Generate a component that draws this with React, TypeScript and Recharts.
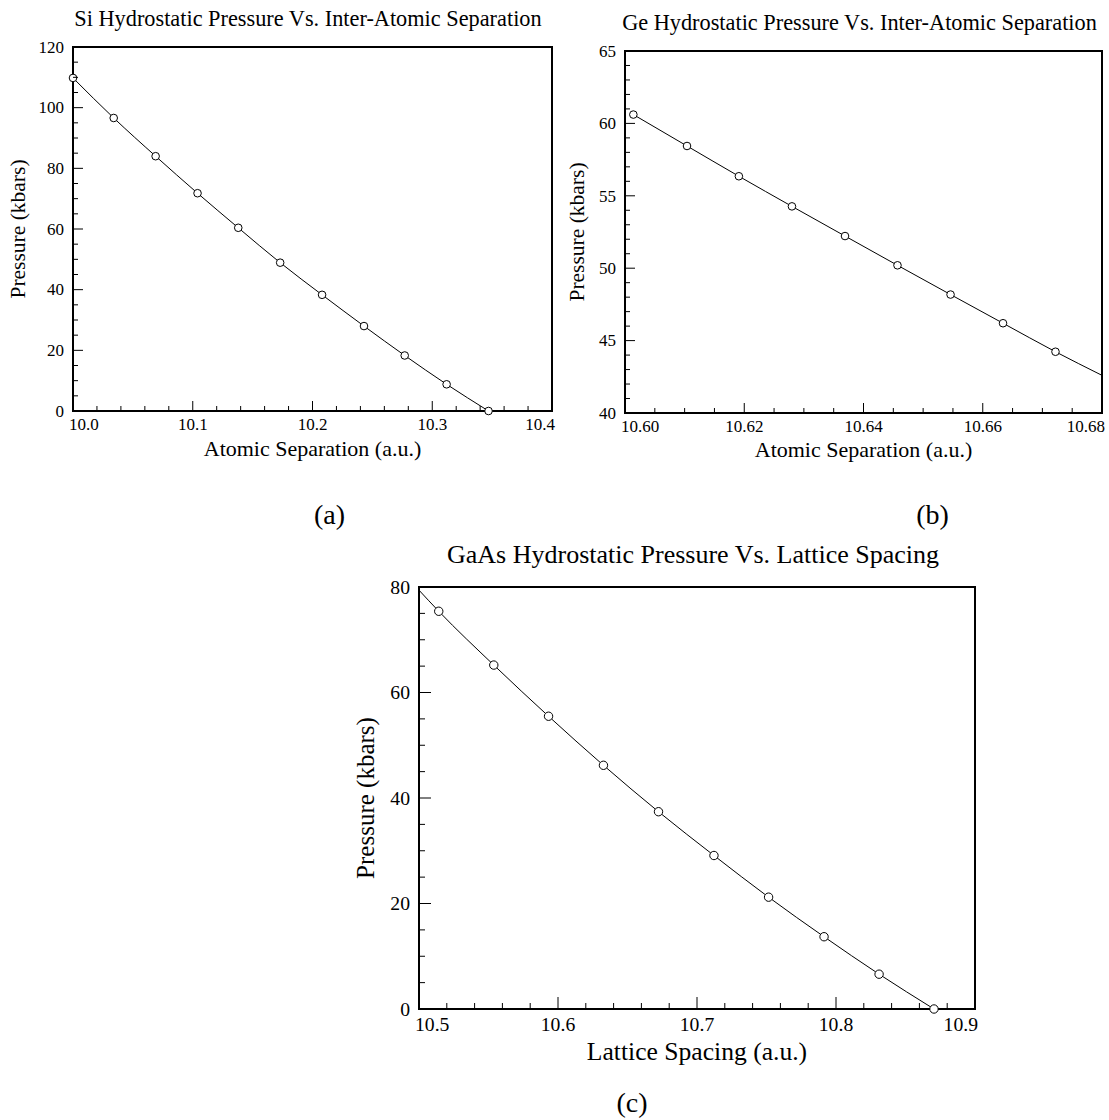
import React from 'react';
import { ComposedChart, Line, Scatter, XAxis, YAxis, ReferenceArea } from 'recharts';

// (a) Si: inter-atomic separation (a.u.) vs hydrostatic pressure (kbars)
const siSeparation = [10.0, 10.034, 10.069, 10.104, 10.138, 10.173, 10.208, 10.243, 10.277, 10.312, 10.347];
const siPressure = [109.8, 96.6, 84.0, 71.8, 60.4, 48.9, 38.3, 28.0, 18.3, 8.8, 0];
const siXMajor = [10.0, 10.1, 10.2, 10.3, 10.4];
const siYMajor = [0, 20, 40, 60, 80, 100, 120];

// (b) Ge
const geSeparation = [10.6014, 10.6104, 10.6191, 10.628, 10.6369, 10.6457, 10.6546, 10.6634, 10.6722];
const gePressure = [60.61, 58.44, 56.35, 54.27, 52.22, 50.2, 48.18, 46.2, 44.23];
const geCurveEnd = { x: 10.68, p: 42.6 }; // fit line runs on to the right edge
const geXMajor = [10.6, 10.62, 10.64, 10.66, 10.68];
const geYMajor = [40, 45, 50, 55, 60, 65];

// (c) GaAs: lattice spacing
const gaasSpacing = [10.5142, 10.5538, 10.5932, 10.6327, 10.6723, 10.7122, 10.7515, 10.7914, 10.831, 10.8705];
const gaasPressure = [75.4, 65.2, 55.5, 46.2, 37.4, 29.1, 21.2, 13.7, 6.6, 0];
const gaasCurveStart = { x: 10.5, p: 79.4 }; // fit line starts at the left edge
const gaasXMajor = [10.5, 10.6, 10.7, 10.8, 10.9];
const gaasYMajor = [0, 20, 40, 60, 80];

const FONT = "'Liberation Serif', 'Times New Roman', Times, serif";

const toPoints = (xs: number[], ps: number[]) => xs.map((x, i) => ({ x, p: ps[i] }));

// major ticks plus the minor ones in between
function withMinor(major: number[], step: number) {
  const lo = major[0];
  const hi = major[major.length - 1];
  const n = Math.round((hi - lo) / step);
  return Array.from({ length: n + 1 }, (_, i) => +(lo + i * step).toFixed(6));
}

const near = (a: number, b: number) => Math.abs(a - b) < 1e-6;

function XTick(props: any) {
  const { x, y, payload, majors, digits, fs, majorLen, minorLen } = props;
  const v = payload.value;
  const isMajor = majors.some((m: number) => near(m, v));
  const first = near(v, majors[0]);
  const last = near(v, majors[majors.length - 1]);
  let anchor = 'middle';
  let tx = x;
  if (first) { anchor = 'start'; tx = x - 4; }
  if (last) { anchor = 'end'; tx = x + 3; }
  const len = isMajor ? majorLen : minorLen;
  return (
    <g>
      {!first && !last && <line x1={x} y1={y} x2={x} y2={y - len} stroke="#000" strokeWidth={1} />}
      {isMajor && (
        <text
          x={tx}
          y={y + fs * 1.12}
          textAnchor={anchor}
          fontSize={fs}
          fontFamily={FONT}
          style={{ fontFamily: FONT }}
          fill="#000"
        >
          {v.toFixed(digits)}
        </text>
      )}
    </g>
  );
}

function YTick(props: any) {
  const { x, y, payload, majors, fs, majorLen, minorLen } = props;
  const v = payload.value;
  const isMajor = majors.some((m: number) => near(m, v));
  const edge = near(v, majors[0]) || near(v, majors[majors.length - 1]);
  const len = isMajor ? majorLen : minorLen;
  return (
    <g>
      {!edge && <line x1={x} y1={y} x2={x + len} y2={y} stroke="#000" strokeWidth={1} />}
      {isMajor && (
        <text
          x={x - 9}
          y={y + fs * 0.34}
          textAnchor="end"
          fontSize={fs}
          fontFamily={FONT}
          style={{ fontFamily: FONT }}
          fill="#000"
        >
          {v}
        </text>
      )}
    </g>
  );
}

function Panel(props: any) {
  const {
    left, top, width, height, margin, yWidth, xHeight,
    xMajor, xStep, xDigits, yMajor, yStep, points, curve, fs, majorLen, minorLen, r,
  } = props;
  const xDomain = [xMajor[0], xMajor[xMajor.length - 1]];
  const yDomain = [yMajor[0], yMajor[yMajor.length - 1]];
  return (
    <div style={{ position: 'absolute', left, top, width, height }}>
      <ComposedChart width={width} height={height} margin={margin}>
        <XAxis
          type="number"
          dataKey="x"
          domain={xDomain}
          ticks={withMinor(xMajor, xStep)}
          interval={0}
          height={xHeight}
          axisLine={false}
          tickLine={false}
          tickSize={0}
          tickMargin={0}
          tick={(p: any) => (
            <XTick {...p} majors={xMajor} digits={xDigits} fs={fs} majorLen={majorLen} minorLen={minorLen} />
          )}
        />
        <YAxis
          type="number"
          dataKey="p"
          domain={yDomain}
          ticks={withMinor(yMajor, yStep)}
          interval={0}
          width={yWidth}
          axisLine={false}
          tickLine={false}
          tickSize={0}
          tickMargin={0}
          tick={(p: any) => <YTick {...p} majors={yMajor} fs={fs} majorLen={majorLen} minorLen={minorLen} />}
        />
        <Line
          data={curve}
          dataKey="p"
          type="monotone"
          stroke="#000"
          strokeWidth={1}
          dot={false}
          activeDot={false}
          isAnimationActive={false}
        />
        <Scatter
          data={points}
          dataKey="p"
          isAnimationActive={false}
          shape={(s: any) => <circle cx={s.cx} cy={s.cy} r={r} fill="#fff" stroke="#000" strokeWidth={1} />}
        />
        <ReferenceArea
          x1={xDomain[0]}
          x2={xDomain[1]}
          y1={yDomain[0]}
          y2={yDomain[1]}
          fill="none"
          fillOpacity={0}
          stroke="#000"
          strokeWidth={2}
        />
      </ComposedChart>
    </div>
  );
}

function Txt({ x, y, size, children, rotate }: any) {
  return (
    <text
      x={x}
      y={y}
      fontSize={size}
      fontFamily={FONT}
      style={{ fontFamily: FONT }}
      textAnchor="middle"
      fill="#000"
      transform={rotate ? `rotate(-90 ${x} ${y})` : undefined}
    >
      {children}
    </text>
  );
}

export default function App() {
  const siPts = toPoints(siSeparation, siPressure);
  const gePts = toPoints(geSeparation, gePressure);
  const gaasPts = toPoints(gaasSpacing, gaasPressure);

  return (
    <div
      style={{
        position: 'absolute', left: 0, top: 0, width: 1109, height: 1120,
        background: '#fff', fontFamily: FONT,
      }}
    >
      <Panel
        left={0} top={0} width={560} height={480}
        margin={{ top: 47, right: 8, bottom: 0, left: 0 }}
        yWidth={73} xHeight={69}
        xMajor={siXMajor} xStep={0.02} xDigits={1}
        yMajor={siYMajor} yStep={5}
        points={siPts} curve={siPts}
        fs={17} majorLen={10} minorLen={5} r={3.8}
      />
      <Panel
        left={560} top={0} width={549} height={480}
        margin={{ top: 51, right: 7, bottom: 0, left: 0 }}
        yWidth={65} xHeight={67}
        xMajor={geXMajor} xStep={0.005} xDigits={2}
        yMajor={geYMajor} yStep={1}
        points={gePts} curve={[...gePts, geCurveEnd]}
        fs={17} majorLen={10} minorLen={5} r={3.8}
      />
      <Panel
        left={340} top={540} width={660} height={540}
        margin={{ top: 47, right: 25, bottom: 0, left: 0 }}
        yWidth={79} xHeight={71}
        xMajor={gaasXMajor} xStep={0.02} xDigits={1}
        yMajor={gaasYMajor} yStep={5}
        points={gaasPts} curve={[gaasCurveStart, ...gaasPts]}
        fs={19.7} majorLen={12} minorLen={6} r={4.2}
      />
      <svg
        width={1109}
        height={1120}
        style={{ position: 'absolute', left: 0, top: 0, pointerEvents: 'none' }}
      >
        <Txt x={308} y={26} size={22.3}>Si Hydrostatic Pressure Vs. Inter-Atomic Separation</Txt>
        <Txt x={312.5} y={455.5} size={22}>Atomic Separation (a.u.)</Txt>
        <Txt x={25} y={229} size={21.5} rotate>Pressure (kbars)</Txt>
        <Txt x={329.5} y={524} size={28}>(a)</Txt>

        <Txt x={859.5} y={30} size={22.3}>Ge Hydrostatic Pressure Vs. Inter-Atomic Separation</Txt>
        <Txt x={863.5} y={457} size={22}>Atomic Separation (a.u.)</Txt>
        <Txt x={584} y={232} size={21.5} rotate>Pressure (kbars)</Txt>
        <Txt x={932.5} y={524} size={28}>(b)</Txt>

        <Txt x={693} y={562.7} size={26}>GaAs Hydrostatic Pressure Vs. Lattice Spacing</Txt>
        <Txt x={697} y={1060} size={25.6}>Lattice Spacing (a.u.)</Txt>
        <Txt x={374} y={798} size={25} rotate>Pressure (kbars)</Txt>
        <Txt x={632} y={1112} size={28}>(c)</Txt>
      </svg>
    </div>
  );
}
